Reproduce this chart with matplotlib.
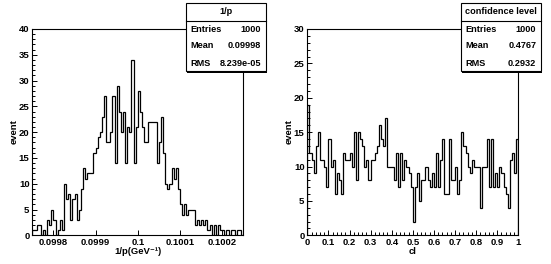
import numpy as np
import matplotlib
matplotlib.use("Agg")
import matplotlib.pyplot as plt
from matplotlib.patches import Rectangle
from matplotlib.ticker import MultipleLocator, FixedLocator, FixedFormatter

plt.rcParams['font.family'] = ['Liberation Sans', 'DejaVu Sans']
plt.rcParams['font.weight'] = 'bold'

# ---------------------------------------------------------------------------
# data (100 bins each)
# ---------------------------------------------------------------------------
p_range = (0.09975, 0.10025)
p_counts = [
    1, 1, 2, 2, 0, 1, 0, 3, 2, 5,
    3, 0, 1, 3, 1, 10, 7, 8, 3, 7,
    8, 3, 5, 9, 13, 11, 12, 12, 12, 16,
    17, 19, 20, 23, 27, 18, 18, 20, 27, 14,
    29, 24, 20, 24, 14, 21, 20, 34, 14, 21,
    28, 24, 21, 18, 18, 22, 22, 22, 22, 14,
    18, 23, 16, 10, 9, 10, 13, 11, 13, 9,
    6, 4, 6, 4, 5, 5, 5, 2, 3, 2,
    3, 2, 3, 1, 2, 0, 2, 0, 2, 1,
    1, 0, 1, 0, 1, 1, 0, 1, 1, 0,
]
p_ticks = [0.0998, 0.0999, 0.1, 0.1001, 0.1002]
p_ticklabels = ["0.0998", "0.0999", "0.1", "0.1001", "0.1002"]
p_stats = [("Entries", "1000"), ("Mean", "0.09998"), ("RMS", "8.239e-05")]

cl_range = (0.0, 1.0)
cl_counts = [
    19, 12, 11, 9, 13, 15, 11, 11, 10, 7,
    14, 10, 11, 6, 9, 8, 6, 12, 11, 11,
    12, 10, 15, 8, 15, 14, 13, 10, 11, 8,
    11, 11, 12, 13, 16, 14, 13, 17, 10, 10,
    10, 8, 12, 7, 12, 8, 11, 10, 9, 7,
    2, 7, 9, 5, 8, 8, 10, 8, 7, 9,
    7, 12, 7, 11, 14, 6, 6, 14, 8, 8,
    10, 6, 8, 15, 13, 12, 10, 9, 11, 10,
    10, 10, 4, 10, 10, 14, 7, 14, 7, 9,
    7, 10, 9, 7, 6, 4, 11, 12, 9, 14,
]
cl_ticks = [0.0, 0.1, 0.2, 0.3, 0.4, 0.5, 0.6, 0.7, 0.8, 0.9, 1.0]
cl_ticklabels = ["0", "0.1", "0.2", "0.3", "0.4", "0.5", "0.6", "0.7", "0.8", "0.9", "1"]
cl_stats = [("Entries", "1000"), ("Mean", "0.4767"), ("RMS", "0.2932")]

W, H = 551, 264


def fx(px):
    return px / W


def fy(py):
    return 1 - py / H


def draw_panel(fig, x0, counts, rng, ymax, ticks, ticklabels, xminor, xtitle, title, stats):
    ax = fig.add_axes([fx(x0), fy(235.3), 211 / W, 206.3 / H])
    edges = np.linspace(rng[0], rng[1], len(counts) + 1)
    ax.stairs(counts, edges, color="black", lw=0.9)
    ax.set_xlim(*rng)
    ax.set_ylim(0, ymax)
    for s in ax.spines.values():
        s.set_linewidth(0.8)
    ax.xaxis.set_major_locator(FixedLocator(ticks))
    ax.xaxis.set_major_formatter(FixedFormatter(ticklabels))
    if xminor:
        ax.xaxis.set_minor_locator(MultipleLocator(xminor))
    ax.yaxis.set_major_locator(MultipleLocator(5))
    ax.yaxis.set_minor_locator(MultipleLocator(1))
    ax.yaxis.set_major_formatter(plt.FuncFormatter(lambda v, _: f"{v:g}"))
    ax.tick_params(which="both", direction="in", top=False, right=False,
                   width=0.7, labelsize=6.8, pad=2)
    ax.tick_params(which="major", length=3.6)
    ax.tick_params(which="minor", length=1.9)
    for lab in ax.get_xticklabels() + ax.get_yticklabels():
        lab.set_fontweight("bold")

    # axis titles
    fig.text(fx(x0 - 17.8), fy(132), "event", rotation=90, ha="center",
             va="center", fontsize=6.8, fontweight="bold")
    fig.text(fx(x0 + 105.5), fy(252), xtitle, ha="center", va="center",
             fontsize=6.8, fontweight="bold")

    # stats box with shadow
    bx0, bx1, by0, by1 = x0 + 153.4, x0 + 233.4, 3, 71
    fig.add_artist(Rectangle((fx(bx0 + 1.5), fy(by1 + 1.5)), (bx1 - bx0) / W,
                             (by1 - by0) / H, transform=fig.transFigure,
                             facecolor="black", edgecolor="none", zorder=5))
    fig.add_artist(Rectangle((fx(bx0), fy(by1)), (bx1 - bx0) / W,
                             (by1 - by0) / H, transform=fig.transFigure,
                             facecolor="white", edgecolor="black", lw=0.8, zorder=6))
    fig.add_artist(plt.Line2D([fx(bx0), fx(bx1)], [fy(20.7), fy(20.7)],
                              transform=fig.transFigure, color="black", lw=0.8, zorder=7))
    fig.text(fx((bx0 + bx1) / 2), fy(11.8), title, ha="center", va="center",
             fontsize=6.6, fontweight="bold", zorder=8)
    for (name, val), yy in zip(stats, [29.3, 45.7, 64.0]):
        fig.text(fx(bx0 + 4.3), fy(yy), name, ha="left", va="center",
                 fontsize=6.6, fontweight="bold", zorder=8)
        fig.text(fx(bx1 - 4.5), fy(yy), val, ha="right", va="center",
                 fontsize=6.6, fontweight="bold", zorder=8)
    return ax


fig = plt.figure(figsize=(W / 100, H / 100), dpi=100)
draw_panel(fig, 32.3, p_counts, p_range, 40, p_ticks, p_ticklabels, None,
           "1/p(GeV\u207b\u00b9)", "1/p", p_stats)
draw_panel(fig, 307.3, cl_counts, cl_range, 30, cl_ticks, cl_ticklabels, 0.02,
           "cl", "confidence level", cl_stats)
fig.savefig("out.png", dpi=100)
